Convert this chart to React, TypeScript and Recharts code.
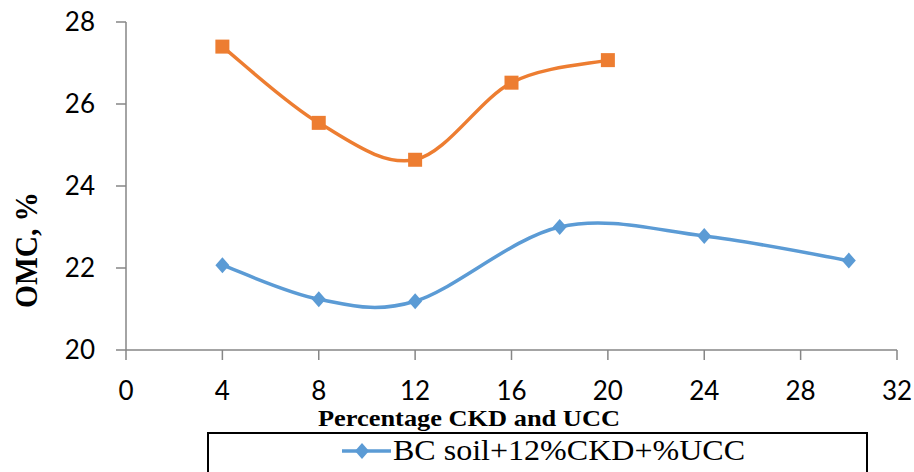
import React from 'react';
import { LineChart, Line, XAxis, YAxis, Legend, Label } from 'recharts';

const ckdX = [4, 8, 12, 16, 20];
const ckdOmc = [27.4, 25.54, 24.64, 26.52, 27.07];
const uccX = [4, 8, 12, 18, 24, 30];
const uccOmc = [22.07, 21.24, 21.19, 23.0, 22.78, 22.18];
const xTicks = [0, 4, 8, 12, 16, 20, 24, 28, 32];
const yTicks = [20, 22, 24, 26, 28];
const seriesNames = ['BC soil+%CKD', 'BC soil+12%CKD+%UCC'];
const xTitle = 'Percentage CKD and UCC';
const yTitle = 'OMC, %';

const ckdData = ckdX.map((x, i) => ({ x, y: ckdOmc[i] }));
const uccData = uccX.map((x, i) => ({ x, y: uccOmc[i] }));

const ORANGE = '#ED7D31';
const BLUE = '#5B9BD5';
const AXIS = '#868686';
const SERIF = '"Liberation Serif", "Times New Roman", serif';
const SANS = 'Lato, "Open Sans", sans-serif';

function excelSmooth(context: any) {
  let pts: number[][] = [];
  return {
    areaStart() {},
    areaEnd() {},
    lineStart() {
      pts = [];
    },
    point(x: number, y: number) {
      pts.push([+x, +y]);
    },
    lineEnd() {
      const n = pts.length;
      if (!n) return;
      context.moveTo(pts[0][0], pts[0][1]);
      const t = 1 / 6;
      for (let i = 0; i < n - 1; i++) {
        const p0 = pts[Math.max(i - 1, 0)];
        const p1 = pts[i];
        const p2 = pts[i + 1];
        const p3 = pts[Math.min(i + 2, n - 1)];
        context.bezierCurveTo(
          p1[0] + (p2[0] - p0[0]) * t,
          p1[1] + (p2[1] - p0[1]) * t,
          p2[0] - (p3[0] - p1[0]) * t,
          p2[1] - (p3[1] - p1[1]) * t,
          p2[0],
          p2[1]
        );
      }
    },
  };
}

const SquareDot = (props: any) => {
  const { cx, cy } = props;
  if (cx == null || cy == null) return null;
  return <rect x={cx - 7} y={cy - 7} width={14} height={14} fill={ORANGE} />;
};

const DiamondDot = (props: any) => {
  const { cx, cy } = props;
  if (cx == null || cy == null) return null;
  return (
    <polygon
      points={`${cx},${cy - 8} ${cx + 7},${cy} ${cx},${cy + 8} ${cx - 7},${cy}`}
      fill={BLUE}
    />
  );
};

const XTitle = (props: any) => {
  const vb = props.viewBox || { x: 126, y: 350, width: 771, height: 82 };
  return (
    <text
      x={vb.x + vb.width / 2 - 42.5}
      y={vb.y + 76}
      textAnchor="middle"
      fontFamily={SERIF}
      fontWeight="bold"
      fontSize={23}
      textLength={302}
      lengthAdjust="spacingAndGlyphs"
      fill="#000"
    >
      {xTitle}
    </text>
  );
};

const YTitle = (props: any) => {
  const vb = props.viewBox || { x: 0, y: 22, width: 126, height: 328 };
  const cx = vb.x + 37;
  const cy = vb.y + vb.height / 2 + 64;
  return (
    <text
      x={cx}
      y={cy}
      transform={`rotate(-90, ${cx}, ${cy})`}
      textAnchor="middle"
      fontFamily={SERIF}
      fontWeight="bold"
      fontSize={31}
      textLength={116}
      lengthAdjust="spacingAndGlyphs"
      fill="#000"
    >
      {yTitle}
    </text>
  );
};

const LegendBox = (props: any) => {
  const items = (props.payload || []).filter((p: any) => p.type !== 'none');
  return (
    <svg width={661} height={40} style={{ display: 'block', overflow: 'visible' }}>
      <rect x={1} y={1} width={659} height={50} fill="#fff" stroke="#000" strokeWidth={2} />
      {items.map((it: any, i: number) => (
        <g key={i}>
          <line x1={135} y1={19} x2={184} y2={19} stroke={BLUE} strokeWidth={3.5} />
          <polygon points={`155,11 162,19 155,27 148,19`} fill={BLUE} />
          <text
            x={186}
            y={28}
            fontFamily={SERIF}
            fontSize={30}
            textLength={352}
            lengthAdjust="spacingAndGlyphs"
            fill="#000"
          >
            {it.value}
          </text>
        </g>
      ))}
    </svg>
  );
};

export default function App() {
  return (
    <div style={{ position: 'absolute', left: 0, top: 0, width: 914, height: 472, background: '#fff' }}>
      <LineChart width={914} height={472} margin={{ top: 22, right: 17, left: 0, bottom: 0 }}>
        <XAxis
          type="number"
          dataKey="x"
          domain={[0, 32]}
          ticks={xTicks}
          interval={0}
          height={82}
          stroke={AXIS}
          strokeWidth={1.5}
          tickSize={10}
          tickMargin={22}
          tick={{ fill: '#000', fontFamily: SANS, fontSize: 26 }}
          tickLine={{ stroke: AXIS, strokeWidth: 1.5 }}
          allowDataOverflow
        >
          <Label content={<XTitle />} />
        </XAxis>
        <YAxis
          type="number"
          domain={[20, 28]}
          ticks={yTicks}
          interval={0}
          width={126}
          stroke={AXIS}
          strokeWidth={1.5}
          tickSize={10}
          tickMargin={21}
          tick={{ fill: '#000', fontFamily: SANS, fontSize: 26 }}
          tickLine={{ stroke: AXIS, strokeWidth: 1.5 }}
          allowDataOverflow
        >
          <Label content={<YTitle />} />
        </YAxis>
        <Legend
          verticalAlign="bottom"
          align="left"
          content={<LegendBox />}
          wrapperStyle={{ left: 207, width: 661, height: 40 }}
        />
        <Line
          data={ckdData}
          dataKey="y"
          name={seriesNames[0]}
          type={excelSmooth as any}
          stroke={ORANGE}
          strokeWidth={3.5}
          dot={<SquareDot />}
          activeDot={false}
          legendType="none"
          isAnimationActive={false}
        />
        <Line
          data={uccData}
          dataKey="y"
          name={seriesNames[1]}
          type={excelSmooth as any}
          stroke={BLUE}
          strokeWidth={3.5}
          dot={<DiamondDot />}
          activeDot={false}
          isAnimationActive={false}
        />
      </LineChart>
    </div>
  );
}
